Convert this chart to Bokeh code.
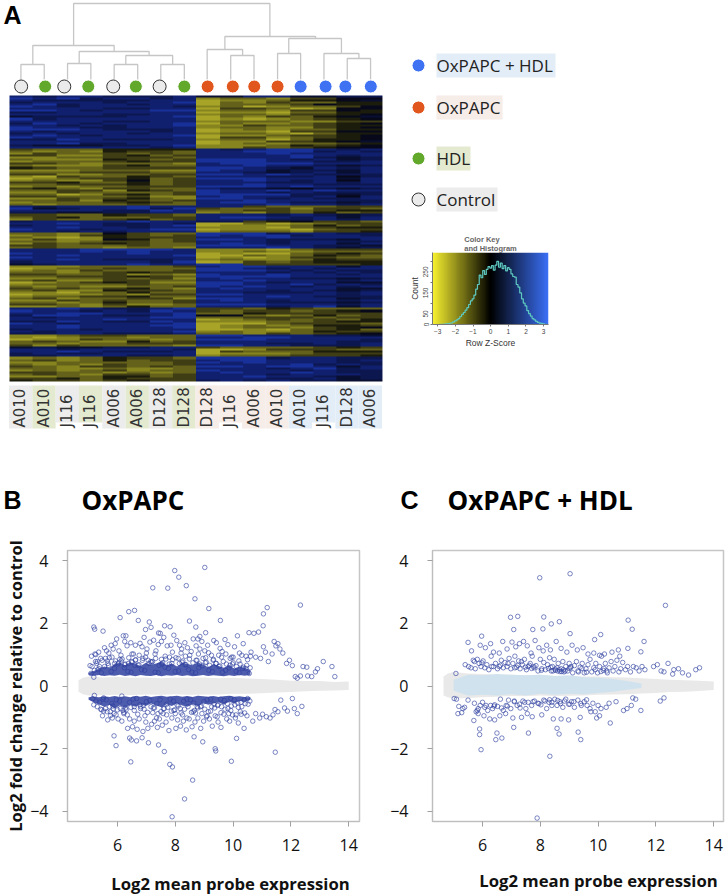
import numpy as np
from bokeh.plotting import figure
from bokeh.layouts import row, column
from bokeh.models import Range1d, LinearColorMapper, FixedTicker
from bokeh.core.properties import value
from bokeh.embed import file_html
from bokeh.resources import INLINE

# ---------- panel A data ----------
sample_labels = ["A010","A010","J116","J116","A006","A006","D128","D128","D128","J116","A006","A010","A010","J116","D128","A006"]
sample_groups = ["Control","HDL","Control","HDL","Control","HDL","Control","HDL","OxPAPC","OxPAPC","OxPAPC","OxPAPC","Both","Both","Both","Both"]
leaf_pos = [0.50,1.53,2.35,3.38,4.45,5.42,6.44,7.50,8.50,9.58,10.50,11.50,12.49,13.56,14.41,15.50]
# left leg x, right leg x, bar height, left leg bottom, right leg bottom
dendro_merges = [
    (0.49,1.49,15,0,0),(2.49,3.49,16,0,0),(4.49,5.50,15,0,0),(6.49,7.50,15,0,0),
    (4.99,7.00,24,15,15),(2.99,5.99,28,16,24),(1.00,4.49,34,15,28),
    (9.49,10.49,24,0,0),(8.48,10.00,30,0,24),(11.50,12.49,26,0,0),(14.49,15.49,21,0,0),(13.49,14.99,26,0,21),
    (11.98,14.24,41,26,26),(9.24,13.13,43,30,41),(2.75,11.17,76,34,43),
]
heat_rows = [
"8788777866886677","9897887812213355","8777778801124456","7888788902132244","8978878802223544","9878888712012235","8888778803320155","9987889912213354",
"7788888801102244","8888778812213345","6777788902132456","9788888801012345","8888778812221133","7987888902112345","8878788911322344","9887788812211345",
"9998777801212244","8788887801103355","7878878812210244","8987888901123345","9888888803312345","7798777812202445","8888888801133456","8897788801212234",
"7666778911124345","8888887811323455","3222444487899878","2121433288999787","1322323288898888","3311342388889878",
"1122333288889767","2111432399987867","1222343399988778","3321222189999888","2111342288988767","4322333399876878",
"1112221198867768","2223332288767868","3311223399898777","1032243288877857","0123342399988868","1211352388987858",
"3342242388877878","2233342388988777","1212233399989888","3421332287765767","2233143298898988","1132222398878777",
"2201342399997767","3322231189887858","1132342199878778","2231432388988877","1222343289987767","2122232288898878",
"8788898888322233","9678897932231332","8888779822332344","7766778812132423",
"3322433288878767","2342223389987868","1322342388877878",
"7888898877345332","8898778700201233","7888778901112423","8898878811102344","9887889901110233","8878788812221334",
"2212532299978877","1213432398997887","2101433388898888","1311542399877768","2212332388878877","1323432289878868","3322232299988776","2322122188898767",
"8889999811102333","8889898811211222","9888898801002343","8898888900212432","9888888801013322","8898777812112433","7888887901323444","6788898899333334",
"1112222389988868","0122322299878788","1213222399987877","2212343388878787","3322312198898878","2233343299998888",
"1122323189887767","2311332288988878","0123431199878866","1222232299889787","2121122398987878","3232342189888866","2311433288878767",
"1102242288777878","0111213399888878","1223342288898777","2312233199888867","1132322389878878","2212422388877767","3321311299988878",
"1121242288878968","8898778933243222","9887879832332345","8899888922433333",
"7998778955212423","8788889922333233","8888988801232324","7798779811122344","9878888900023332","8898889901212443","8898888901221345","7887888800102342","8788888912112433","7788777822132345",
"1123322299888776","1012212288998888","0113221299988887","2321142388888877","2212233388877878","3132222199887778",
"6766778832222343","8878888700133322","8898777803222444","7877888801112333","7788877812223334",
"1212433299978877","2312423389988878","1122222398988877","2121322388889787",
"3213323299899868","2211211288878978","1212312298887877","3322121289889877","2321332388878887","1122442388988767",
"3342433388877867","4332343378787766",
]

legend_names = ["OxPAPC + HDL","OxPAPC","HDL","Control"]
group_colors = {"Control":"#ebebeb","HDL":"#62a82b","OxPAPC":"#e0561c","Both":"#3f72f2"}
group_bg = {"Control":"#ececec","HDL":"#e3ead0","OxPAPC":"#f6ece8","Both":"#e3edf7"}

hist_z = [round(-3.0 + 0.1*i, 1) for i in range(63)]
hist_counts = [0,0,1,1,2,3,4,6,8,12,17,22,28,38,48,57,68,80,95,112,122,140,168,190,235,222,256,238,262,275,
               268,280,258,282,300,272,292,265,280,255,270,262,240,228,225,190,178,150,122,102,88,66,52,40,28,22,15,10,7,5,3,1,0]

# ---------- panel B data ----------
band_x = [4.65,4.8,5.0,5.5,6.0,6.5,7.0,7.5,8.0,8.5,9.0,9.5,10.0,10.5,11.0,11.5,12.0,12.5,13.0,13.5,14.0]
b_grey_hi = [0.18,0.26,0.30,0.27,0.29,0.26,0.27,0.25,0.27,0.26,0.27,0.25,0.26,0.24,0.22,0.20,0.17,0.16,0.16,0.13,0.14]
b_grey_lo = [-0.18,-0.26,-0.30,-0.29,-0.28,-0.29,-0.27,-0.28,-0.26,-0.28,-0.27,-0.27,-0.25,-0.25,-0.23,-0.21,-0.19,-0.17,-0.15,-0.14,-0.13]
core_x = [5.0,5.18,5.36,5.54,5.72,5.9,6.08,6.26,6.44,6.62,6.8,6.98,7.16,7.34,7.52,7.7,7.88,8.06,8.24,8.42,8.6,8.78,8.96,9.14,9.32,9.5,9.68,9.86,10.04,10.22,10.4,10.6]
b_up_core_hi = [0.42,0.48,0.55,0.62,0.58,0.70,0.74,0.66,0.76,0.70,0.64,0.74,0.68,0.72,0.78,0.66,0.72,0.62,0.74,0.70,0.66,0.76,0.68,0.60,0.70,0.64,0.58,0.66,0.56,0.62,0.58,0.50]
b_up_core_lo = [0.36,0.33,0.35,0.32,0.34,0.33,0.36,0.32,0.34,0.31,0.35,0.33,0.32,0.35,0.31,0.34,0.33,0.35,0.32,0.34,0.31,0.33,0.35,0.32,0.34,0.33,0.31,0.34,0.32,0.35,0.33,0.36]
b_lo_core_hi = [-0.36,-0.34,-0.36,-0.33,-0.35,-0.32,-0.35,-0.33,-0.36,-0.32,-0.34,-0.31,-0.35,-0.33,-0.31,-0.34,-0.33,-0.31,-0.34,-0.32,-0.35,-0.31,-0.33,-0.34,-0.32,-0.35,-0.33,-0.31,-0.34,-0.33,-0.35,-0.36]
b_lo_core_lo = [-0.44,-0.52,-0.58,-0.66,-0.60,-0.72,-0.62,-0.70,-0.60,-0.66,-0.58,-0.64,-0.56,-0.62,-0.68,-0.58,-0.64,-0.56,-0.62,-0.66,-0.58,-0.64,-0.54,-0.60,-0.56,-0.52,-0.60,-0.50,-0.56,-0.48,-0.50,-0.42]

b_x = [7.98,9.02,8.12,8.38,7.22,7.74,8.68,9.16,12.33,11.18,11.05,11.04,9.56,8.49,8.71,6.39,6.59,6.09,6.72,7.10,7.16,6.97,7.63,7.82,5.18,5.21,5.50,7.42,7.48,9.05,8.85,8.78,5.97,6.20,6.29,
       7.89,8.32,8.60,7.90,7.81,6.46,9.94,11.46,7.62,9.38,9.40,8.95,5.95,7.07,7.42,10.12,8.65,5.88,6.85,6.66,6.48,6.42,
       5.10,5.22,5.35,5.42,5.55,5.62,5.70,5.78,5.85,5.92,6.05,6.12,6.25,6.33,6.46,6.55,6.62,6.78,6.85,6.92,7.02,7.12,7.25,7.33,7.41,7.52,7.60,7.72,7.85,7.95,8.05,8.15,8.22,8.33,8.42,8.55,8.62,8.72,8.85,8.92,9.02,9.12,9.25,9.33,9.42,9.55,9.62,9.72,9.82,9.95,10.05,10.15,10.22,10.35,10.45,10.55,10.62,10.72,10.78,10.88,10.95,11.05,11.12,11.22,11.35,11.42,11.48,11.55,11.62,11.72,11.85,11.95,12.05,12.15,12.22,12.33,12.42,12.55,12.58,12.72,12.85,12.92,13.12,13.42,13.52,
       5.05,5.18,5.28,5.38,5.48,5.58,5.66,5.75,5.82,5.95,6.02,6.15,6.22,6.35,6.42,6.52,6.58,6.68,6.75,6.88,6.98,7.05,7.18,7.28,7.38,7.45,7.55,7.68,7.78,7.88,8.02,8.08,8.18,8.28,8.38,8.48,8.58,8.68,8.78,8.88,8.98,9.08,9.18,9.28,9.38,9.48,9.58,9.68,9.78,9.88,9.98,10.08,10.18,10.28,10.38,10.48,10.68,10.78,10.92,11.02,11.15,11.28,11.38,11.45,11.55,11.65,11.78,11.88,12.05,12.12,12.22,12.38,
       5.20,5.52,5.80,6.15,6.38,6.62,6.88,7.15,7.52,7.80,8.10,8.35,8.75,9.05,9.32,9.60,9.90,10.20,10.50,
       5.30,5.65,5.90,6.25,6.50,6.75,7.00,7.30,7.65,7.90,8.20,8.50,8.80,9.15,9.50,9.75,10.00,10.30,10.60,
       5.25,5.72,6.08,6.48,6.80,7.22,7.58,7.95,8.25,8.62,8.92,9.22,9.58,9.92,10.25,
       5.45,5.85,6.28,6.58,6.95,7.35,7.70,8.00,8.40,8.70,9.10,9.45,9.85,10.10,10.40]
b_y = [3.68,3.78,3.47,3.20,3.13,3.12,2.78,2.47,2.58,2.50,2.30,1.92,2.09,2.07,1.88,2.37,2.41,2.18,2.09,2.04,1.87,1.80,1.92,1.89,1.88,1.81,1.75,1.69,1.68,1.70,1.58,1.50,1.50,1.60,1.60,
       -4.17,-3.60,-3.00,-2.58,-2.50,-2.42,-2.40,-2.11,-2.09,-2.00,-2.07,-1.78,-1.90,-1.81,-1.88,-1.67,-1.62,-1.59,-1.65,-1.75,-1.72,-1.66,
       0.95,1.02,1.08,0.88,1.22,1.12,1.05,1.30,1.18,1.35,1.12,0.98,1.42,1.28,1.38,1.02,1.30,1.36,1.25,1.55,1.18,1.40,1.46,1.12,1.32,1.42,1.55,1.28,1.30,1.62,1.45,1.30,1.18,1.38,1.22,1.10,1.50,1.28,1.18,1.42,1.12,1.30,0.98,1.45,1.38,1.20,1.10,1.48,1.32,0.92,1.25,1.60,1.05,1.35,0.95,1.70,1.08,1.68,0.92,1.72,0.88,1.25,1.08,0.78,1.02,1.42,1.28,1.35,1.18,1.05,0.72,0.82,0.65,0.30,0.25,0.32,0.62,0.60,0.32,0.30,0.45,0.55,0.78,0.62,0.30,0.65,0.28,0.72,0.62,
       -0.95,-0.72,-1.08,-0.82,-1.02,-0.92,-1.05,-1.12,-0.88,-1.35,-1.05,-1.30,-1.12,-1.38,-1.05,-1.45,-1.15,-1.35,-1.22,-1.12,-1.32,-1.05,-1.25,-1.15,-1.42,-1.02,-1.35,-1.08,-1.28,-1.12,-1.40,-1.05,-1.30,-1.15,-1.02,-1.35,-1.12,-0.98,-1.05,-1.28,-0.95,-1.15,-1.32,-0.90,-1.05,-1.12,-0.92,-1.02,-1.18,-0.90,-1.35,-0.95,-1.12,-0.88,-1.02,-0.90,-0.98,-1.02,-0.92,-0.75,-0.82,-0.45,-0.70,-0.80,-0.40,-0.72,-0.88,-0.65,-0.30,-0.38,-0.55,-0.32,
       0.72,0.82,0.88,0.78,0.85,0.92,0.88,0.95,0.82,0.90,0.85,0.92,0.88,0.80,0.84,0.78,0.80,0.72,0.68,
       1.02,0.98,1.05,1.02,0.95,1.08,1.05,0.98,1.02,1.06,0.98,1.02,0.92,0.98,0.95,1.00,0.90,0.85,0.78,
       -0.72,-0.85,-0.88,-0.78,-0.92,-0.82,-0.88,-0.80,-0.85,-0.78,-0.82,-0.76,-0.72,-0.70,-0.66,
       -0.95,-1.02,-0.92,-0.88,-1.02,-0.86,-0.95,-0.98,-0.88,-0.92,-0.86,-0.88,-0.82,-0.78,-0.74]
# denser part of the two clouds next to the grey band
b_dense_x = [5.12,5.24,5.36,5.47,5.58,5.69,5.81,5.93,6.04,6.16,6.27,6.39,6.51,6.63,6.74,6.86,6.97,7.09,7.21,7.32,7.44,7.56,7.67,7.79,7.91,8.02,8.14,8.26,8.37,8.49,8.61,8.72,8.84,8.96,9.07,9.19,9.31,9.42,9.54,9.66,9.77,9.89,10.01,10.12,10.24,10.36,10.47,10.59,
             5.18,5.42,5.64,5.88,6.10,6.34,6.58,6.80,7.04,7.28,7.50,7.74,7.98,8.20,8.44,8.66,8.90,9.14,9.36,9.60,9.82,10.06,10.30,10.52,
             5.30,5.52,5.76,6.00,6.22,6.46,6.70,6.92,7.16,7.40,7.62,7.86,8.10,8.32,8.56,8.78,9.02,9.26,9.48,9.72,9.94,10.18,10.42,
             5.08,5.32,5.55,5.78,6.02,6.24,6.47,6.71,6.94,7.18,7.41,7.64,7.88,8.11,8.34,8.58,8.81,9.04,9.28,9.51,9.74,9.98,10.21,10.44,
             5.20,5.44,5.67,5.90,6.13,6.36,6.60,6.83,7.06,7.30,7.53,7.76,8.00,8.23,8.46,8.70,8.93,9.16,9.40,9.63,9.86,10.10,10.33,10.56,
             5.14,5.38,5.61,5.84,6.07,6.30,6.54,6.77,7.00,7.24,7.47,7.70,7.94,8.17,8.40,8.64,8.87,9.10,9.34,9.57,9.80,10.04,10.27,10.50,
             5.26,5.50,5.73,5.96,6.19,6.42,6.66,6.89,7.12,7.36,7.59,7.82,8.06,8.29,8.52,8.76,8.99,9.22,9.46,9.69,9.92,10.16,10.39,10.58]
b_dense_y = [0.62,0.78,0.55,0.82,0.88,0.66,0.92,0.80,0.74,0.86,0.70,0.90,0.76,0.84,0.68,0.82,0.92,0.72,0.78,0.88,0.66,0.74,0.86,0.70,0.84,0.90,0.72,0.80,0.68,0.86,0.74,0.82,0.70,0.88,0.76,0.66,0.82,0.72,0.64,0.78,0.70,0.66,0.74,0.62,0.70,0.60,0.66,0.58,
             -0.60,-0.74,-0.82,-0.88,-0.72,-0.92,-0.78,-0.66,-0.84,-0.70,-0.82,-0.68,-0.76,-0.86,-0.66,-0.78,-0.64,-0.82,-0.70,-0.66,-0.72,-0.60,-0.66,-0.58,
             -0.66,-0.80,-0.94,-0.76,-0.84,-0.68,-0.90,-0.74,-0.66,-0.88,-0.72,-0.80,-0.64,-0.74,-0.84,-0.70,-0.74,-0.66,-0.60,-0.74,-0.64,-0.68,-0.56,
             0.40,0.52,0.62,0.46,0.70,0.58,0.44,0.66,0.50,0.76,0.42,0.60,0.72,0.48,0.68,0.44,0.58,0.74,0.46,0.62,0.50,0.70,0.42,0.56,
             0.50,0.42,0.72,0.56,0.80,0.46,0.66,0.52,0.82,0.44,0.70,0.56,0.46,0.76,0.52,0.42,0.64,0.50,0.72,0.44,0.58,0.46,0.56,0.40,
             -0.40,-0.52,-0.44,-0.64,-0.48,-0.76,-0.42,-0.60,-0.50,-0.70,-0.44,-0.58,-0.48,-0.72,-0.42,-0.54,-0.66,-0.44,-0.58,-0.42,-0.56,-0.44,-0.52,-0.40,
             -0.48,-0.42,-0.66,-0.44,-0.78,-0.52,-0.40,-0.62,-0.46,-0.56,-0.72,-0.42,-0.60,-0.48,-0.44,-0.66,-0.50,-0.42,-0.62,-0.46,-0.40,-0.54,-0.44,-0.48]

# ---------- panel C data ----------
c_grey_hi = [0.30,0.40,0.45,0.40,0.38,0.36,0.36,0.34,0.36,0.32,0.32,0.30,0.30,0.28,0.27,0.25,0.22,0.20,0.18,0.17,0.14]
c_grey_lo = [-0.30,-0.36,-0.40,-0.38,-0.36,-0.34,-0.32,-0.33,-0.30,-0.32,-0.31,-0.30,-0.28,-0.27,-0.26,-0.24,-0.22,-0.19,-0.18,-0.16,-0.13]
cblue_x = [5.0,5.5,6.0,6.5,7.0,7.5,8.0,8.5,9.0,9.5,10.0,10.5,11.0,11.5]
c_blue_hi = [0.20,0.36,0.34,0.38,0.36,0.34,0.36,0.32,0.34,0.28,0.26,0.22,0.16,0.08]
c_blue_lo = [-0.15,-0.30,-0.28,-0.30,-0.26,-0.30,-0.25,-0.28,-0.25,-0.26,-0.22,-0.18,-0.12,-0.06]

c_x = [7.98,9.03,12.33,11.04,11.18,6.97,7.22,8.12,8.38,8.66,7.08,7.74,8.09,9.03,10.09,9.88,5.97,5.50,11.59,11.03,10.70,11.48,13.51,13.38,13.13,
       7.89,8.33,5.95,9.40,9.31,8.65,8.58,7.59,6.46,6.67,6.50,5.90,5.90,7.08,
       5.08,5.40,5.52,5.60,5.68,5.75,5.82,5.88,5.95,6.02,6.08,6.15,6.22,6.30,6.38,6.45,6.52,6.58,6.65,6.72,6.78,6.85,6.92,6.98,7.05,7.12,7.18,7.25,7.30,7.38,7.45,7.52,7.58,7.65,7.72,7.78,7.85,7.92,8.00,8.05,8.12,8.18,8.25,8.32,8.38,8.42,8.48,8.52,8.58,8.62,8.68,8.72,8.78,8.82,8.88,8.95,9.00,9.05,9.12,9.18,9.25,9.32,9.38,9.45,9.52,9.58,9.65,9.72,9.78,9.85,9.92,9.98,10.05,10.12,10.18,10.25,10.32,10.38,10.45,10.52,10.58,10.65,10.72,10.78,10.85,10.95,11.02,11.12,11.22,11.32,11.42,11.52,11.62,11.92,12.05,12.18,12.28,12.42,12.58,12.62,12.78,12.92,
       5.62,5.92,6.10,6.28,6.38,6.58,6.70,6.85,7.02,7.15,7.28,7.42,7.55,7.68,7.82,7.95,8.10,8.22,8.35,8.55,8.72,8.92,9.10,9.28,9.48,9.65,9.85,10.05,10.22,10.48,10.75,
       5.02,5.10,5.18,5.28,5.38,5.50,5.72,5.78,5.85,5.92,6.00,6.08,6.18,6.28,6.35,6.42,6.52,6.62,6.72,6.82,6.90,6.98,7.10,7.20,7.30,7.40,7.50,7.58,7.70,7.80,7.92,8.02,8.12,8.22,8.30,8.40,8.50,8.58,8.68,8.78,8.88,8.98,9.08,9.18,9.30,9.42,9.52,9.62,9.72,9.82,9.90,10.00,10.10,10.28,10.38,10.62,10.88,11.00,11.15,11.20,11.30,11.48,12.15,12.28,
       5.15,5.32,5.70,5.85,6.05,6.25,6.42,6.60,6.80,7.05,7.35,7.55,7.72,8.05,8.45,8.72,8.98,9.38,9.75,9.95,10.05,10.42,
       5.72,5.98,6.32,6.62,6.88,7.12,7.22,7.35,7.48,7.62,7.70,7.78,8.04,8.28,8.36,8.44,8.52,8.60,8.66,8.74,8.80,8.86,9.00,9.06,9.30,9.44,9.60,9.90,10.10,10.20,10.30,
       5.82,6.12,6.40,6.66,6.86,7.10,7.28,7.46,7.75,7.95,8.16,8.32,8.40,8.60,8.70,8.84,9.02,9.16,9.40,9.60]
c_y = [3.45,3.58,2.57,2.10,1.81,2.19,2.22,2.20,1.98,2.05,1.80,1.80,1.82,1.67,1.64,1.48,1.59,1.39,1.42,1.20,1.15,1.09,0.58,0.52,0.35,
       -4.21,-2.24,-2.03,-1.71,-1.47,-1.53,-1.35,-1.50,-1.71,-1.66,-1.50,-1.37,-1.55,-1.32,
       0.40,0.68,0.62,0.58,0.82,0.55,0.85,0.72,0.62,0.80,0.58,0.68,0.52,0.95,0.62,0.72,0.55,0.62,0.82,0.58,0.75,0.62,0.88,0.55,0.72,0.95,0.60,0.80,0.55,0.68,0.85,0.52,0.62,0.72,0.95,0.58,0.65,0.48,0.85,0.55,0.75,0.52,0.68,0.90,0.48,0.62,0.85,0.50,0.58,0.72,0.46,0.55,0.78,0.45,0.62,0.48,0.72,0.58,0.42,0.65,0.78,0.45,0.60,0.72,0.42,0.55,0.68,0.85,0.45,0.58,0.72,0.42,0.62,0.95,0.50,0.72,0.42,0.58,0.78,0.48,0.62,0.82,0.45,0.55,0.75,0.52,0.62,0.45,0.62,0.58,0.48,0.62,0.52,0.62,0.68,0.48,0.45,0.72,0.38,0.52,0.55,0.42,
       1.12,1.30,1.22,1.35,1.08,1.05,1.42,1.18,1.40,1.25,1.35,1.42,1.28,1.05,1.45,1.22,1.12,1.30,1.15,1.42,1.20,1.08,1.30,1.15,1.22,1.02,1.05,0.98,1.02,1.08,0.95,
       -0.40,-0.42,-0.65,-0.85,-0.68,-0.45,-0.55,-0.82,-0.72,-0.62,-0.52,-0.68,-0.78,-0.62,-0.72,-0.60,-0.65,-0.42,-0.78,-0.62,-0.45,-0.72,-0.50,-0.62,-0.70,-0.48,-0.72,-0.52,-0.62,-0.48,-0.55,-0.60,-0.45,-0.72,-0.52,-0.62,-0.42,-0.62,-0.50,-0.68,-0.42,-0.58,-0.50,-0.68,-0.45,-0.62,-0.50,-0.62,-0.72,-0.55,-0.82,-0.62,-0.72,-0.68,-0.55,-0.50,-0.78,-0.72,-0.62,-0.38,-0.42,-0.78,-0.48,-0.38,
       -0.88,-0.72,-1.10,-0.88,-0.95,-1.05,-1.08,-0.95,-0.88,-1.02,-1.00,-0.88,-0.98,-0.92,-1.05,-1.05,-1.08,-1.00,-0.82,-1.02,-0.95,-1.18,
       0.78,0.74,0.62,0.66,0.72,0.58,0.66,0.78,0.60,0.66,0.56,0.62,0.50,0.56,0.60,0.48,0.54,0.48,0.52,0.46,0.52,0.48,0.56,0.62,0.48,0.56,0.44,0.52,0.46,0.56,0.48,
       -0.78,-0.62,-0.64,-0.70,-0.64,-0.48,-0.58,-0.52,-0.50,-0.56,-0.48,-0.44,-0.52,-0.46,-0.56,-0.48,-0.58,-0.50,-0.56,-0.44]

# ---------- panel A ----------
H = 450
fa = figure(width=400, height=H, x_range=Range1d(-9/23.31, 391/23.31), y_range=Range1d(0, H),
            output_backend="svg", toolbar_location=None, min_border=0, outline_line_color=None)
fa.axis.visible = False
fa.grid.visible = False
mat = np.array([[int(c) for c in r] for r in heat_rows], dtype=float)
heat_palette = ["#a8a428","#86841f","#64621a","#3e3d14","#1c1c0c","#07081a","#080f30","#0c1750","#10206e","#18309a"]
fa.image(image=[mat[::-1]], x=0, y=H-381, dw=16, dh=286,
         color_mapper=LinearColorMapper(palette=heat_palette, low=0, high=9))
base = H-79
dcol = "#c6c6c6"
for a, b, h, la, lb in dendro_merges:
    fa.line([a, a, b, b], [base+la, base+h, base+h, base+lb], line_color=dcol, line_width=1.3)
fa.scatter(leaf_pos, [H-86]*16, size=13,
           fill_color=[group_colors[g] for g in sample_groups],
           line_color=["#333333" if g == "Control" else "#ffffff" for g in sample_groups], line_width=1)
tops = [H-385]*16
bots = [H-(422 if s == "J116" else 428) for s in sample_labels]
xs = np.arange(16)
fa.quad(left=xs-0.02, right=xs+0.98, top=tops, bottom=bots, line_color=None,
        fill_color=[group_bg[g] for g in sample_groups])
fa.text(xs+0.47, [H-427]*16, text=sample_labels, angle=np.pi/2, text_align="left", text_baseline="middle",
        text_font=value("DejaVu Sans"), text_font_size="15px", text_color="#333333")
fa.text([-0.26], [H-14], text=["A"], text_font=value("Liberation Sans"), text_font_style="bold",
        text_font_size="25px", text_baseline="middle", text_color="black")

# ---------- legend ----------
fl = figure(width=326, height=230, x_range=Range1d(400, 726), y_range=Range1d(0, 230),
            output_backend="svg", toolbar_location=None, min_border=0, outline_line_color=None)
fl.axis.visible = False
fl.grid.visible = False
leg_groups = ["Both","OxPAPC","HDL","Control"]
leg_y = [230-65, 230-107, 230-158, 230-199]
leg_w = [119, 66, 34, 61]
fl.quad(left=[436]*4, right=[436+w for w in leg_w], top=[y+12 for y in leg_y], bottom=[y-12 for y in leg_y],
        fill_color=[group_bg[g] for g in leg_groups], line_color=None)
fl.scatter([418]*4, leg_y, size=13, fill_color=[group_colors[g] for g in leg_groups],
           line_color=["#ffffff","#ffffff","#ffffff","#333333"], line_width=1)
fl.text([436]*4, leg_y, text=legend_names, text_baseline="middle", text_font=value("Open Sans"),
        text_font_size="17px", text_color="#222222")

# ---------- colour key ----------
fk = figure(width=170, height=120, x_range=Range1d(-3.3, 3.28), y_range=Range1d(0, 342),
            output_backend="svg", toolbar_location=None, min_border_left=32, min_border_right=22,
            min_border_top=22, min_border_bottom=25, outline_line_color=None,
            title="Color Key\nand Histogram", title_location="above")
fk.title.align = "center"
fk.title.text_font = "Liberation Sans"
fk.title.text_font_size = "7.5px"
fk.title.text_font_style = "bold"
fk.title.text_color = "#666666"
fk.title.standoff = 0
fk.grid.visible = False
grad = np.linspace(-3.3, 3.28, 128).reshape(1, -1)
key_cols = []
for t in np.linspace(0, 1, 128):
    if t < 0.5:
        c0, c1, u = (246,240,48), (0,0,0), t*2
    else:
        c0, c1, u = (0,0,0), (59,111,245), (t-0.5)*2
    key_cols.append("#%02x%02x%02x" % tuple(int(c0[i]+(c1[i]-c0[i])*u) for i in range(3)))
fk.image(image=[grad], x=-3.3, y=0, dw=6.58, dh=342, color_mapper=LinearColorMapper(palette=key_cols, low=-3.3, high=3.28))
fk.step(hist_z, hist_counts, mode="center", line_color="#5ec9c0", line_width=1.2)
fk.xaxis.ticker = FixedTicker(ticks=[-3,-2,-1,0,1,2,3])
fk.yaxis.ticker = FixedTicker(ticks=[0,50,100,150,200,250,300])
fk.yaxis.major_label_overrides = {100:"",200:"",300:""}
fk.yaxis.major_label_orientation = "vertical"
for ax in (fk.xaxis[0], fk.yaxis[0]):
    ax.major_label_text_font_size = "6.5px"
    ax.major_label_text_font = "Liberation Sans"
    ax.major_label_text_color = "#444444"
    ax.major_tick_out = 2
    ax.major_tick_in = 0
    ax.minor_tick_out = 0
    ax.minor_tick_in = 0
    ax.major_label_standoff = 2
    ax.axis_line_color = "#777777"
    ax.major_tick_line_color = "#777777"
    ax.axis_label_text_font = "Liberation Sans"
    ax.axis_label_text_font_style = "normal"
    ax.axis_label_text_font_size = "8.5px"
    ax.axis_label_text_color = "#333333"
    ax.axis_label_standoff = 1
fk.xaxis.axis_label = "Row Z-Score"
fk.yaxis.axis_label = "Count"

# ---------- panels B, C ----------
def ma_fig(width, left, right, ystand):
    frame_w = width-left-right
    x0 = 6-(50/28.9)
    p = figure(width=width, height=325, x_range=Range1d(x0, x0+frame_w/28.9), y_range=Range1d(-4.32, 4.32),
               output_backend="svg", toolbar_location=None, min_border_left=left, min_border_right=right,
               min_border_top=15, min_border_bottom=39,
               outline_line_color="#c6c6c6", outline_line_width=1.5)
    p.grid.visible = False
    p.xaxis.ticker = FixedTicker(ticks=[6,8,10,12,14])
    p.yaxis.ticker = FixedTicker(ticks=[-4,-2,0,2,4])
    for ax in (p.xaxis[0], p.yaxis[0]):
        ax.major_label_text_font = "Open Sans"
        ax.major_label_text_font_size = "16px"
        ax.major_label_text_color = "#111111"
        ax.major_tick_out = 5
        ax.major_tick_in = 0
        ax.minor_tick_out = 0
        ax.minor_tick_in = 0
        ax.major_label_standoff = 12
        ax.axis_line_color = "#bdbdbd"
        ax.major_tick_line_color = "#a0a0a0"
    p.yaxis.major_label_standoff = ystand
    return p

pt_col = "#2f3f9f"
fb = ma_fig(365, 67, 6, 14)
fb.varea(band_x, b_grey_lo, b_grey_hi, fill_color="#e9e9e9")
fb.varea(core_x, b_up_core_lo, b_up_core_hi, fill_color=pt_col, fill_alpha=0.85)
fb.varea(core_x, b_lo_core_lo, b_lo_core_hi, fill_color=pt_col, fill_alpha=0.85)
fb.scatter(b_x, b_y, size=4.5, marker="circle", fill_color=None, line_color=pt_col, line_alpha=0.7, line_width=0.9)
fb.scatter(b_dense_x, b_dense_y, size=4.5, marker="circle", fill_color=None, line_color=pt_col, line_alpha=0.7, line_width=0.9)
fb.yaxis.axis_label = "Log2 fold change relative to control"
fb.yaxis.axis_label_text_font = "Open Sans"
fb.yaxis.axis_label_text_font_style = "bold"
fb.yaxis.axis_label_text_font_size = "16.5px"
fb.yaxis.axis_label_text_color = "#111111"
fb.yaxis.axis_label_standoff = 0

fc = ma_fig(361, 67, 3, 19)
fc.varea(band_x, c_grey_lo, c_grey_hi, fill_color="#e9e9e9")
fc.varea(cblue_x, c_blue_lo, c_blue_hi, fill_color="#cde2ee", fill_alpha=0.95)
fc.scatter(c_x, c_y, size=4.5, marker="circle", fill_color=None, line_color=pt_col, line_alpha=0.7, line_width=0.9)

# panel headers and footers
fh = figure(width=726, height=85, x_range=Range1d(0, 726), y_range=Range1d(0, 85),
            output_backend="svg", toolbar_location=None, min_border=0, outline_line_color=None)
fh.axis.visible = False
fh.grid.visible = False
fh.text([3, 400], [36, 36], text=["B", "C"], text_font=value("Liberation Sans"), text_font_style="bold",
        text_font_size="25px", text_baseline="middle", text_color="black")
fh.text([81, 447], [36, 36], text=["OxPAPC", "OxPAPC + HDL"], text_font=value("Open Sans"), text_font_style="bold",
        text_font_size="26px", text_baseline="middle", text_color="black")
ff = figure(width=726, height=35, x_range=Range1d(0, 726), y_range=Range1d(0, 35),
            output_backend="svg", toolbar_location=None, min_border=0, outline_line_color=None)
ff.axis.visible = False
ff.grid.visible = False
ff.text([230, 598], [12, 15], text=["Log2 mean probe expression"]*2, text_align="center", text_font=value("Open Sans"),
        text_font_style="bold", text_font_size="16.7px", text_baseline="middle", text_color="#111111")

page = column(row(fa, column(row(fl), row(fk))), fh, row(fb, fc), ff)
open("out.html", "w").write(file_html(page, INLINE))
